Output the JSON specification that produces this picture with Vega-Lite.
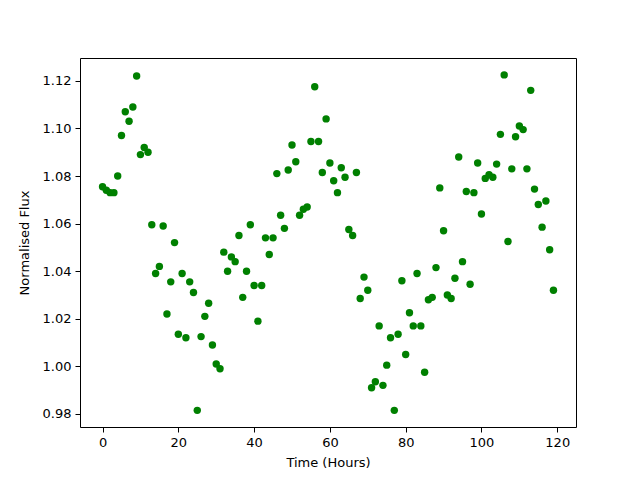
{
  "$schema": "https://vega.github.io/schema/vega-lite/v6.json",
  "width": 496,
  "height": 369,
  "autosize": {"type": "none"},
  "padding": {"left": 80, "top": 58, "right": 64, "bottom": 53},
  "background": "white",
  "config": {
    "view": {"stroke": "black", "strokeWidth": 1},
    "axis": {
      "grid": false,
      "domain": false,
      "tickColor": "black",
      "tickSize": 5,
      "labelColor": "black",
      "titleColor": "black",
      "labelFont": "DejaVu Sans",
      "titleFont": "DejaVu Sans",
      "labelFontSize": 13,
      "titleFontSize": 13,
      "titleFontWeight": "normal"
    }
  },
  "data": {
    "values": [
      {"t":0,"f":1.0755},{"t":1,"f":1.074},{"t":2,"f":1.073},{"t":3,"f":1.073},{"t":4,"f":1.080},
      {"t":5,"f":1.097},{"t":6,"f":1.107},{"t":7,"f":1.103},{"t":8,"f":1.109},{"t":9,"f":1.122},
      {"t":10,"f":1.089},{"t":11,"f":1.092},{"t":12,"f":1.090},{"t":13,"f":1.0595},{"t":14,"f":1.039},
      {"t":15,"f":1.042},{"t":16,"f":1.059},{"t":17,"f":1.022},{"t":18,"f":1.0355},{"t":19,"f":1.052},
      {"t":20,"f":1.0135},{"t":21,"f":1.039},{"t":22,"f":1.012},{"t":23,"f":1.0355},{"t":24,"f":1.031},
      {"t":25,"f":0.9815},{"t":26,"f":1.0125},{"t":27,"f":1.021},{"t":28,"f":1.0265},{"t":29,"f":1.009},
      {"t":30,"f":1.001},{"t":31,"f":0.999},{"t":32,"f":1.048},{"t":33,"f":1.040},{"t":34,"f":1.046},
      {"t":35,"f":1.044},{"t":36,"f":1.055},{"t":37,"f":1.029},{"t":38,"f":1.040},{"t":39,"f":1.0595},
      {"t":40,"f":1.034},{"t":41,"f":1.019},{"t":42,"f":1.034},{"t":43,"f":1.054},{"t":44,"f":1.047},
      {"t":45,"f":1.054},{"t":46,"f":1.081},{"t":47,"f":1.0635},{"t":48,"f":1.058},{"t":49,"f":1.0825},
      {"t":50,"f":1.093},{"t":51,"f":1.086},{"t":52,"f":1.0635},{"t":53,"f":1.066},{"t":54,"f":1.067},
      {"t":55,"f":1.0945},{"t":56,"f":1.1175},{"t":57,"f":1.0945},{"t":58,"f":1.0815},{"t":59,"f":1.104},
      {"t":60,"f":1.0855},{"t":61,"f":1.078},{"t":62,"f":1.073},{"t":63,"f":1.0835},{"t":64,"f":1.0795},
      {"t":65,"f":1.0575},{"t":66,"f":1.055},{"t":67,"f":1.0815},{"t":68,"f":1.0285},{"t":69,"f":1.0375},
      {"t":70,"f":1.032},{"t":71,"f":0.991},{"t":72,"f":0.9935},{"t":73,"f":1.017},{"t":74,"f":0.992},
      {"t":75,"f":1.0005},{"t":76,"f":1.012},{"t":77,"f":0.9815},{"t":78,"f":1.0135},{"t":79,"f":1.036},
      {"t":80,"f":1.005},{"t":81,"f":1.0225},{"t":82,"f":1.017},{"t":83,"f":1.039},{"t":84,"f":1.017},
      {"t":85,"f":0.9975},{"t":86,"f":1.028},{"t":87,"f":1.029},{"t":88,"f":1.0415},{"t":89,"f":1.075},
      {"t":90,"f":1.057},{"t":91,"f":1.030},{"t":92,"f":1.0285},{"t":93,"f":1.037},{"t":94,"f":1.088},
      {"t":95,"f":1.044},{"t":96,"f":1.0735},{"t":97,"f":1.0345},{"t":98,"f":1.073},{"t":99,"f":1.0855},
      {"t":100,"f":1.064},{"t":101,"f":1.079},{"t":102,"f":1.0805},{"t":103,"f":1.0795},{"t":104,"f":1.085},
      {"t":105,"f":1.0975},{"t":106,"f":1.1225},{"t":107,"f":1.0525},{"t":108,"f":1.083},{"t":109,"f":1.0965},
      {"t":110,"f":1.101},{"t":111,"f":1.0995},{"t":112,"f":1.083},{"t":113,"f":1.116},{"t":114,"f":1.0745},
      {"t":115,"f":1.068},{"t":116,"f":1.0585},{"t":117,"f":1.0695},{"t":118,"f":1.049},{"t":119,"f":1.032}
    ]
  },
  "mark": {"type": "circle", "color": "#008000", "opacity": 1, "size": 55},
  "encoding": {
    "x": {
      "field": "t", "type": "quantitative", "title": "Time (Hours)",
      "scale": {"domain": [-5.95, 124.95], "nice": false, "zero": false},
      "axis": {"values": [0, 20, 40, 60, 80, 100, 120], "titlePadding": 7, "labelPadding": 4}
    },
    "y": {
      "field": "f", "type": "quantitative", "title": "Normalised Flux",
      "scale": {"domain": [0.9745, 1.1296], "nice": false, "zero": false},
      "axis": {"values": [0.98, 1.0, 1.02, 1.04, 1.06, 1.08, 1.1, 1.12], "format": ".2f", "titlePadding": 11, "labelPadding": 4}
    }
  }
}
